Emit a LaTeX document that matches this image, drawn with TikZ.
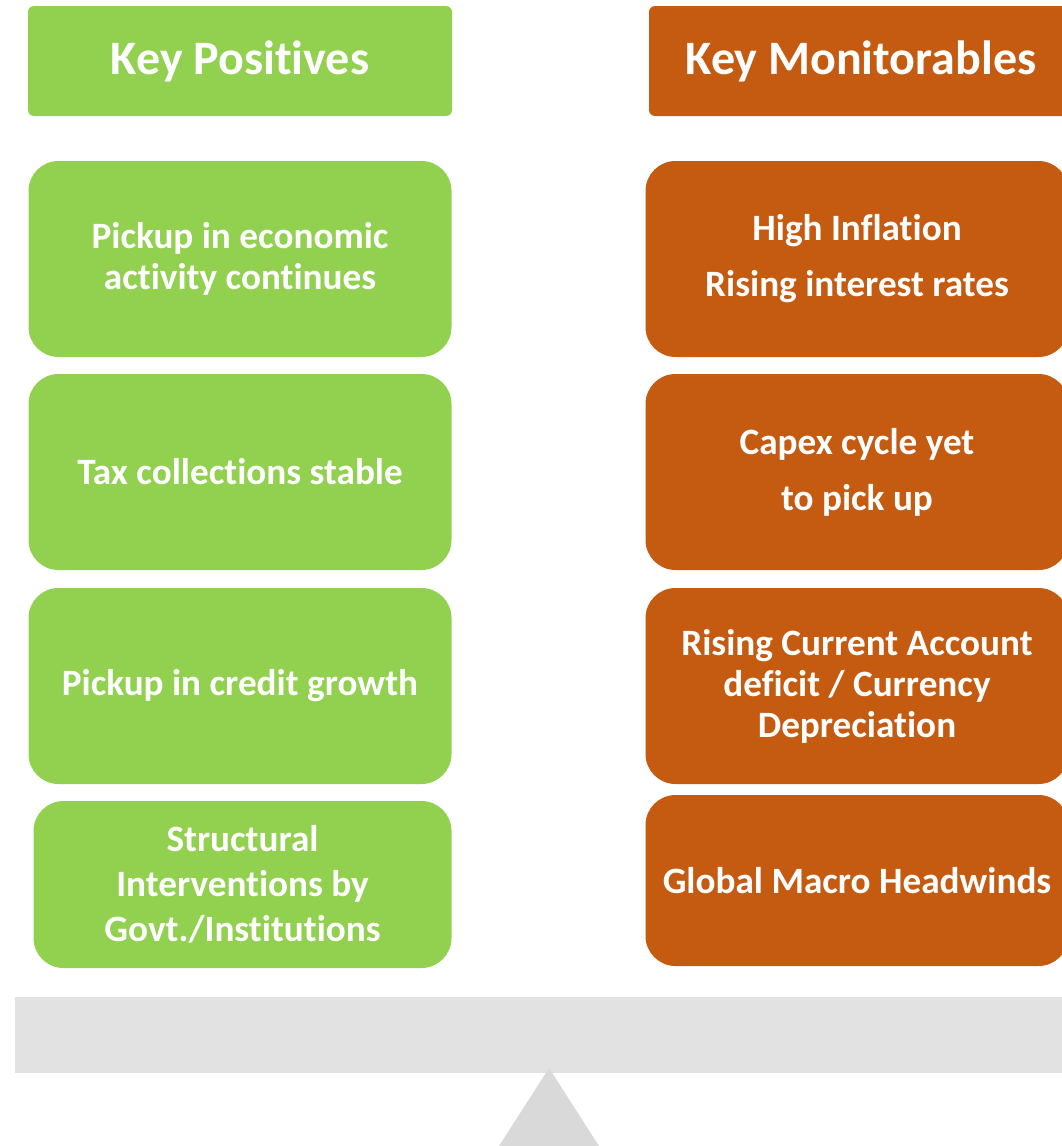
\documentclass[tikz,border=0pt]{standalone}
\usepackage{fontspec}
\setmainfont{Carlito}[Ligatures=NoCommon]
\usetikzlibrary{positioning}
\definecolor{posgreen}{HTML}{92D050}
\definecolor{monorange}{HTML}{C55A11}
\definecolor{beamgray}{HTML}{E2E2E2}
\definecolor{pivotgray}{HTML}{D9D9D9}
\tikzset{head node/.style={rectangle, rounded corners=3pt, outer sep=0pt, minimum width=212pt, minimum height=55pt, text=white, font=\bfseries\fontsize{24}{29}\selectfont},
	item node/.style={rectangle, rounded corners=15pt, outer sep=0pt, minimum width=211.5pt, minimum height=98pt, text=white, align=center, font=\bfseries\fontsize{18.6}{20.5}\selectfont},}

\begin{document}
\begin{tikzpicture}
	\useasboundingbox (0,0) rectangle (530.5pt,-573pt);
	% Headers
	\node[head node, fill=posgreen] (poshead) at (120pt,-30.5pt) {Key Positives};
	\node[head node, fill=monorange] (monhead) at (430.5pt,-30.5pt) {Key Monitorables};
	% Positives
	\node[item node, fill=posgreen] [below = 22.5pt of poshead] (pos1) {Pickup in economic\\activity continues};
	\node[item node, fill=posgreen] [below = 8.5pt of pos1] (pos2) {Tax collections stable};
	\node[item node, fill=posgreen] [below = 9pt of pos2] (pos3) {Pickup in credit growth};
	\node[item node, fill=posgreen, minimum width=209pt, minimum height=83.5pt, xshift=1.25pt, font=\bfseries\fontsize{18.6}{22.5}\selectfont] [below = 8.5pt of pos3] (pos4) {Structural\\Interventions by\\Govt./Institutions};
	% Monitorables
	\node[item node, fill=monorange] [below = 22.5pt of monhead, xshift=-2pt] (mon1) {High Inflation\\[7.5pt]Rising interest rates};
	\node[item node, fill=monorange] [below = 8.5pt of mon1] (mon2) {Capex cycle yet\\[7.5pt]to pick up};
	\node[item node, fill=monorange] [below = 9pt of mon2] (mon3) {Rising Current Account\\deficit / Currency\\Depreciation};
	\node[item node, fill=monorange, minimum height=85.5pt] [below = 5.5pt of mon3] (mon4) {Global Macro Headwinds};
	% Balance
	\fill[beamgray] (7.5pt,-498.5pt) rectangle (531pt,-536.5pt);
	\fill[pivotgray] (274.5pt,-534pt) -- (249.5pt,-573pt) -- (299.5pt,-573pt) -- cycle;
\end{tikzpicture}
\end{document}
